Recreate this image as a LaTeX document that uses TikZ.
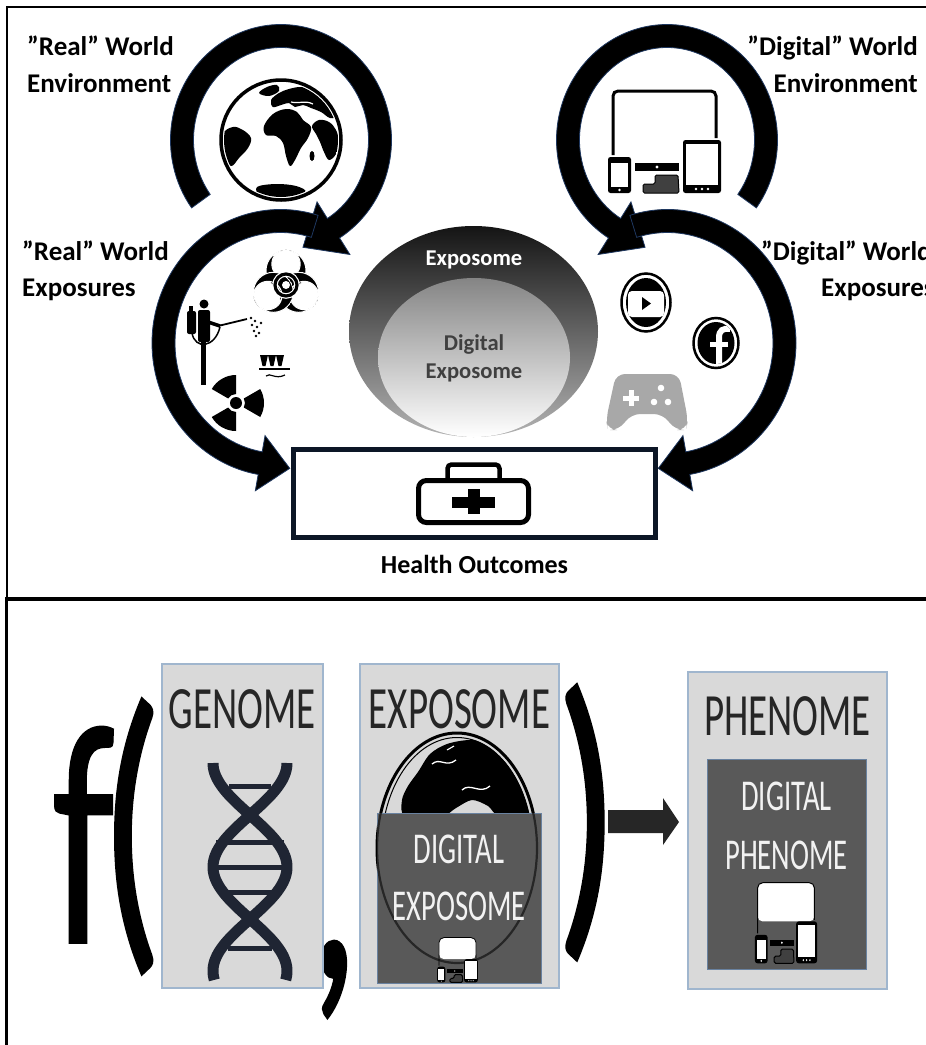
\documentclass[tikz,border=0pt]{standalone}
\usepackage{fontspec}
\setmainfont{Carlito}
\newfontfamily\heavyglyph[FakeBold=1.2]{Carlito}
\newfontfamily\lightglyph[FakeBold=0.5]{Carlito}
\definecolor{arrowedge}{RGB}{30,55,95}
\definecolor{panelfill}{RGB}{217,217,217}
\definecolor{panelline}{RGB}{160,182,206}
\definecolor{darkbox}{RGB}{89,89,89}
\definecolor{darkboxline}{RGB}{105,130,160}
\definecolor{inktext}{RGB}{38,38,38}
\definecolor{dnaink}{RGB}{31,37,51}
\definecolor{padgrey}{RGB}{168,168,168}
\definecolor{basegrey}{RGB}{64,64,64}
\definecolor{softwhite}{RGB}{242,242,242}

% thick ring-shaped arrow: cx, cy, rx, ry, half thickness, start angle, end angle,
% head half width, head length (negative when the angle decreases)
\newcommand\ringarrow[9]{%
  \filldraw[ringarrow]
    ({#1+(#3+#5)*cos(#6)},{#2+(#4+#5)*sin(#6)})
    arc[start angle=#6, end angle=#7, x radius=#3+#5, y radius=#4+#5]
    -- ({#1+(#3+#8)*cos(#7)},{#2+(#4+#8)*sin(#7)})
    -- ({#1+#3*cos(#7)-(#9)*sin(#7)},{#2+#4*sin(#7)+(#9)*cos(#7)})
    -- ({#1+(#3-#8)*cos(#7)},{#2+(#4-#8)*sin(#7)})
    -- ({#1+(#3-#5)*cos(#7)},{#2+(#4-#5)*sin(#7)})
    arc[start angle=#7, end angle=#6, x radius=#3-#5, y radius=#4-#5]
    -- cycle;}

% monitor, phone, console and tablet group, drawn around its own centre
% #1 scope options, #2 monitor fill, #3 frame colour, #4 screen colour, #5 monitor line width
\newcommand\devicegroup[5]{%
  \begin{scope}[#1]
    \path[fill=#2, rounded corners=5] (-51.5,-2) rectangle (51.5,-51);
    \draw[#3, line width=#5, rounded corners=5]
      (-51.5,13) -- (-51.5,-51) -- (51.5,-51) -- (51.5,-4);
    \fill[#3, rounded corners=2.5] (-56.5,15) rectangle (-33.5,51);
    \fill[#4] (-53.5,21) rectangle (-36.5,45);
    \fill[#4] (-45,48) circle[radius=1.4];
    \fill[#3] (-29.5,21) rectangle (14.5,29);
    \fill[#4] (-7.5,25) circle[radius=1.6];
    \filldraw[draw=#3, fill=basegrey, line width=1, rounded corners=1.5]
      (-21.5,51) -- (-21.5,42) -- (-9.5,42) -- (-9.5,33) -- (13.5,33) -- (14.5,51) -- cycle;
    \fill[#3, rounded corners=2.5] (18.5,-2) rectangle (56.5,51);
    \fill[#4] (21.5,2) rectangle (53.5,43);
    \foreach \dx in {31.5,37.5,43.5} \fill[#4] (\dx,47) circle[radius=1.4];
  \end{scope}}

\tikzset{
  ringarrow/.style={fill=black, draw=arrowedge, line width=0.8pt},
  sidelabel/.style={font=\bfseries\fontsize{27}{32}\selectfont, inner sep=0},
  centrelabel/.style={font=\bfseries\fontsize{22.6}{27}\selectfont, inner sep=0},
  panel/.style={fill=panelfill, draw=panelline, line width=1.2pt},
  innerbox/.style={fill=darkbox, draw=darkboxline, line width=0.8pt},
  panelhead/.style={text=inktext, font=\fontsize{60}{60}\selectfont, inner sep=0},
  boxtext/.style={text=softwhite, font=\fontsize{44}{44}\selectfont, inner sep=0},
  bigglyph/.style={font=\heavyglyph\fontsize{316}{316}\selectfont, inner sep=0},
  bigletter/.style={font=\lightglyph\fontsize{316}{316}\selectfont, inner sep=0},
  crescent/.style={fill=black, draw=white, line width=1, even odd rule},
}

\begin{document}
\begin{tikzpicture}[x=1pt,y=-1pt]
\useasboundingbox (0,0) rectangle (926,1045);
\fill[white] (0,0) rectangle (926,1045);

% ---------- frames ----------
\draw[line width=2] (7,598) -- (7,7) -- (926,7);
\draw[line width=4] (5,598.5) -- (926,598.5);
\draw[line width=3] (6.5,598) -- (6.5,1045);

% ---------- ring arrows ----------
\ringarrow{281}{140}{99}{104}{11.5}{144}{418}{31}{36}
\ringarrow{667}{140}{99}{104}{11.5}{36}{-238}{31}{-36}
\ringarrow{280.5}{343}{117}{122}{11.5}{287}{100}{28}{-30}
\ringarrow{667.5}{343}{117}{122}{11.5}{-107}{80}{28}{30}

% ---------- labels ----------
\node[sidelabel, anchor=base west] (realenv1) at (27,55) {”Real” World};
\node[sidelabel, anchor=base west] (realenv2) at (27,92) {Environment};
\node[sidelabel, anchor=base west] (realexp1) at (22,260) {”Real” World};
\node[sidelabel, anchor=base west] (realexp2) at (22,296) {Exposures};
\node[sidelabel, anchor=base east] (digenv1) at (918,55) {”Digital” World};
\node[sidelabel, anchor=base east] (digenv2) at (918,92) {Environment};
\node[sidelabel, anchor=base west] (digexp1) at (761,260) {”Digital” World};
\node[sidelabel, anchor=base west] (digexp2) at (821,296) {Exposures};

% ---------- globe ----------
\begin{scope}[shift={(281,140)}]
  \fill[white] (0,0) circle[radius=61];
  \begin{scope}
    \clip (0,0) circle[radius=57];
    % Africa
    \fill plot[smooth cycle, tension=0.6] coordinates {(-17,-14) (-8,-26) (5,-31) (16,-28) (22,-20) (30,-13) (27,-2) (20,8) (14,20) (9,26) (5,16) (2,3) (-5,-4) (-15,-5)};
    % Europe and Asia
    \fill plot[smooth cycle, tension=0.6] coordinates {(-10,-40) (-2,-47) (8,-51) (20,-53) (33,-50) (45,-44) (53,-34) (57,-24) (49,-22) (40,-28) (30,-32) (22,-35) (14,-33) (8,-37) (0,-35) (-8,-33)};
    % Arabia and India
    \fill plot[smooth cycle, tension=0.6] coordinates {(31,-14) (38,-20) (48,-18) (55,-10) (58,2) (55,14) (48,20) (43,12) (39,2) (35,-6)};
    \fill (31,16) ellipse[x radius=2.5, y radius=5];
    % South America
    \fill plot[smooth cycle, tension=0.6] coordinates {(-58,-6) (-48,-13) (-38,-10) (-30,-2) (-33,8) (-42,18) (-50,26) (-58,14)};
    % northern islands
    \fill plot[smooth cycle, tension=0.6] coordinates {(-22,-47) (-14,-53) (-4,-55) (-2,-49) (-12,-44)};
    % Antarctica
    \fill plot[smooth cycle, tension=0.6] coordinates {(-24,47) (-5,44) (15,46) (24,52) (0,58) (-20,56)};
    \draw[white, line width=1.2] (10,-38) .. controls (18,-36) and (24,-40) .. (32,-36);
  \end{scope}
  \draw[line width=3.5] (0,0) circle[radius=60];
\end{scope}

% ---------- devices ----------
\devicegroup{shift={(664.5,142)}}{none}{black}{white}{3}

% ---------- real world exposures ----------
% biohazard
\begin{scope}[shift={(286,285)}]
  \foreach \a in {270,30,150} {
    \begin{scope}
      \clip (\a:14.6) circle[radius=20.5];
      \filldraw[crescent] (\a:14.6) circle[radius=20] (\a:21) circle[radius=14.2];
    \end{scope}
  }
  \draw[white, line width=5.5] (0,0) circle[radius=11];
  \draw[line width=3.2] (0,0) circle[radius=11];
  \fill[white] (0,0) circle[radius=4];
\end{scope}
% sprayer
\fill[rounded corners=2] (187,311) rectangle (196,334);
\fill (189,306) rectangle (193,311);
\fill (204,304) circle[radius=4.5];
\fill[rounded corners=2] (198,310) rectangle (210,342);
\draw[line width=5] (203,340) -- (203,385);
\draw[line width=3.5] (208,322) -- (220,326);
\draw[line width=1.8] (218,326) -- (247,319);
\draw[line width=1.5] (192,333) .. controls (195,350) and (215,348) .. (220,327);
\foreach \p in {(251,318),(255,321),(252,325),(257,327),(254,331),(259,333),(256,336),(261,323)} \fill \p circle[radius=1.3];
% polluted water
\foreach \x in {264,272,280} \fill (\x-4,355) -- (\x+4,355) -- (\x+1.5,366) -- (\x-1.5,366) -- cycle;
\draw[line width=1.5] (259,369) -- (290,369);
\draw[line width=1.2] (266,376) .. controls (270,372) and (275,380) .. (285,375);
% radiation
\foreach \a in {210,330,90} {
  \fill ({236+9*cos(\a)},{403+9*sin(\a)}) -- ({236+28*cos(\a)},{403+28*sin(\a)})
    arc[start angle=\a, end angle=\a+60, radius=28]
    -- ({236+9*cos(\a+60)},{403+9*sin(\a+60)})
    arc[start angle=\a+60, end angle=\a, radius=9] -- cycle;
}
\fill (236,403) circle[radius=6];

% ---------- digital world exposures ----------
% video icon
\draw[line width=2.5] (646,302.5) ellipse[x radius=24.5, y radius=29];
\fill (646,302.5) ellipse[x radius=20, y radius=24.5];
\fill[white, rounded corners=4] (628,291) rectangle (664,317);
\fill (642,297) -- (651,303.5) -- (642,310) -- cycle;
% social icon
\draw[line width=2.5] (716,343) ellipse[x radius=22.5, y radius=25];
\fill (716,343) ellipse[x radius=18.5, y radius=21];
\begin{scope}
  \clip (716,343) ellipse[x radius=18.5, y radius=21];
  \draw[white, line width=6] (719,370) -- (719,338) .. controls (719,330) and (723,328) .. (730,329);
  \draw[white, line width=5] (710,344) -- (728,344);
\end{scope}
% game pad
\fill[padgrey, rounded corners=9] (616,374) -- (679,374) -- (688,420) -- (686,430) -- (675,430) -- (663,414) -- (631,414) -- (619,430) -- (608,430) -- (606,420) -- cycle;
\fill[white] (623,395.5) rectangle (639,400.5);
\fill[white] (628.5,390) rectangle (633.5,406);
\foreach \p in {(661,388),(654,402),(668,402)} \fill[white] \p circle[radius=3.3];

% ---------- exposome ellipses ----------
\shade[top color=black!92, bottom color=black!30] (473.5,331.5) ellipse[x radius=124.5, y radius=105.5];
\shade[top color=black!48, bottom color=white] (474,357.5) ellipse[x radius=96, y radius=79.5];
\node[centrelabel, text=white, anchor=base] (expo) at (474,265) {Exposome};
\node[centrelabel, text=black!75, anchor=base] (dexpo1) at (474,350) {Digital};
\node[centrelabel, text=black!75, anchor=base] (dexpo2) at (474,378) {Exposome};

% ---------- health outcomes ----------
\node[draw={rgb,255:red,12;green,22;blue,38}, line width=5, minimum width=362, minimum height=88, inner sep=0] (health) at (474.5,493) {};
\draw[line width=4.5, rounded corners=4] (447.5,479) -- (447.5,464.5) -- (499.5,464.5) -- (499.5,479);
\draw[line width=5, rounded corners=8] (418.5,480.5) rectangle (528.5,522.5);
\fill (452,496.5) rectangle (495,507.5);
\fill (468,489) rectangle (480,514);
\node[font=\bfseries\fontsize{26}{30}\selectfont, inner sep=0, anchor=base] (outcomes) at (474.5,573) {Health Outcomes};

% ---------- f( genome , exposome ) -> phenome ----------
\node[bigletter, anchor=base west] (fsym) at (52,943) {\scalebox{0.65}[1]{f}};
\node[bigglyph, anchor=base west] (lparen) at (100,930) {\scalebox{0.65}[1]{(}};
\node[bigglyph, anchor=base west] (comma) at (308,977) {\scalebox{0.65}[1]{,}};
\node[bigglyph, anchor=base west] (rparen) at (556,916) {\scalebox{0.65}[1]{)}};

% genome panel
\filldraw[panel] (162,664) rectangle (323,988);
\node[panelhead, anchor=base] (genome) at (242.5,728) {\scalebox{0.65}[1]{GENOME}};
\draw[dnaink, line width=11] plot[domain=0:1, samples=90, variable=\t] ({250+37*cos(375.58*\t)}, {763+217*\t});
\draw[dnaink, line width=11] plot[domain=0:1, samples=90, variable=\t] ({250-37*cos(375.58*\t)}, {763+217*\t});
\foreach \yy/\hw in {786/21,842/34,867/33,892/27,948/22} {
  \draw[dnaink, line width=5] ({250-\hw},\yy) -- ({250+\hw},\yy);
}

% exposome panel
\filldraw[panel] (360,664) rectangle (559,988);
\node[panelhead, anchor=base] (exposome) at (459.5,728) {\scalebox{0.65}[1]{EXPOSOME}};
\begin{scope}
  \clip (457,848) ellipse[x radius=76, y radius=111];
  \clip (370,725) rectangle (545,813);
  \fill plot[smooth cycle, tension=0.5] coordinates {(418,772) (430,754) (447,744) (470,740) (495,744) (516,756) (531,776) (540,800) (540,816) (500,816) (488,806) (472,800) (456,808) (442,816) (405,816) (402,800) (408,786)};
  \draw[white, line width=1.3] (432,764) .. controls (440,757) and (446,768) .. (456,760);
  \draw[white, line width=1.3] (462,790) .. controls (470,782) and (480,795) .. (490,786);
  \draw[white, line width=1.1] (447,750) -- (454,746);
\end{scope}
\draw[line width=3] (457,848) ellipse[x radius=80, y radius=115];
\draw[line width=1] (457,848) ellipse[x radius=75.5, y radius=110.5];
\filldraw[innerbox] (377,813) rectangle (541,983);
\begin{scope}
  \clip (377,813) rectangle (541,983);
  \draw[line width=2.2, black!85] (457,848) ellipse[x radius=80, y radius=115];
\end{scope}
\node[boxtext, anchor=base] (digexp1b) at (459,863) {\scalebox{0.65}[1]{DIGITAL}};
\node[boxtext, anchor=base] (digexp2b) at (459,920) {\scalebox{0.65}[1]{EXPOSOME}};
\devicegroup{shift={(457.5,960)}, xscale=0.36, yscale=0.44}{white}{black}{white}{0.8}

% arrow to phenome
\fill[inktext] (608,810) -- (663,810) -- (663,798) -- (679,822) -- (663,845) -- (663,833) -- (608,833) -- cycle;

% phenome panel
\filldraw[panel] (688,672) rectangle (887,989);
\node[panelhead, anchor=base] (phenome) at (787.5,735) {\scalebox{0.65}[1]{PHENOME}};
\filldraw[innerbox] (707,759) rectangle (866,969);
\node[boxtext, anchor=base] (digphen1) at (786.5,810) {\scalebox{0.65}[1]{DIGITAL}};
\node[boxtext, anchor=base] (digphen2) at (786.5,869) {\scalebox{0.65}[1]{PHENOME}};
\devicegroup{shift={(786,923)}, xscale=0.55, yscale=0.79}{white}{black}{white}{1}
\end{tikzpicture}
\end{document}
